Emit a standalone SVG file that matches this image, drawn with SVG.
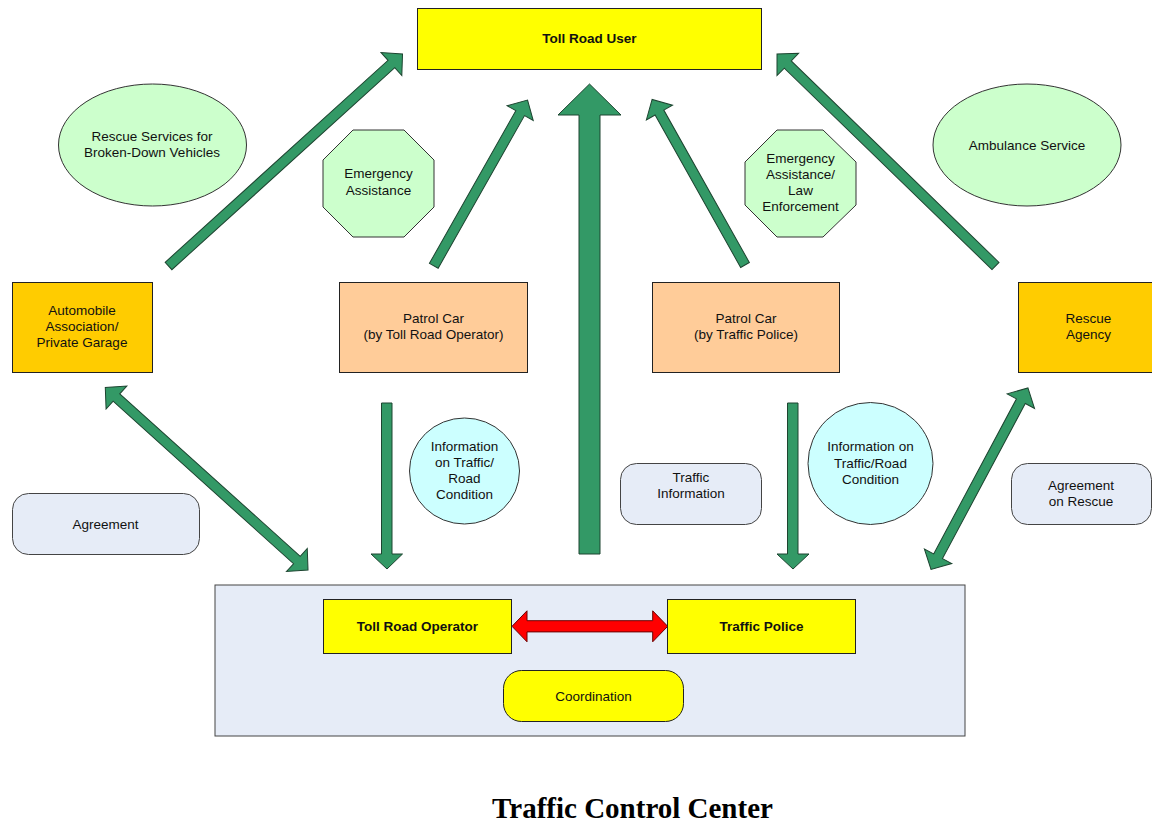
<svg xmlns="http://www.w3.org/2000/svg" width="1152" height="822" viewBox="0 0 1152 822">
  <style>
    text { font-family: "Liberation Sans", Arial, sans-serif; font-size: 13.5px; fill: #111; text-anchor: middle; }
    .b { font-weight: bold; }
    .title { font-family: "Liberation Serif", "Times New Roman", serif; font-size: 29px; font-weight: bold; fill: #000; }
    .box { stroke: #222; stroke-width: 1; }
    .yellow { fill: #FFFF00; }
    .gold { fill: #FFCC00; }
    .peach { fill: #FFCC99; }
    .mint { fill: #CCFFCC; stroke: #333; stroke-width: 1; }
    .aqua { fill: #CCFFFF; stroke: #333; stroke-width: 1; }
    .note { fill: #E6ECF7; stroke: #444; stroke-width: 1; }
    .green { fill: #339966; stroke: #1d4430; stroke-width: 1; }
    .red { fill: #FF0000; stroke: #6a0000; stroke-width: 1; }
  </style>

  <rect width="1152" height="822" fill="#FFFFFF"/>

  <!-- Traffic control center frame -->
  <g id="tcc">
    <rect x="215" y="585" width="750" height="151" class="note" stroke="#555"/>
  </g>

  <!-- connectors -->
  <g id="connectors">
    <!-- garage to user -->
    <polygon class="green" transform="translate(168.5,266) rotate(-42.18)" points="0,-5 300.8,-5 300.8,-15.5 315.8,0 300.8,15.5 300.8,5 0,5"/>
    <!-- operator patrol to user -->
    <polygon class="green" transform="translate(433.8,265.8) rotate(-60.5)" points="0,-5 175.4,-5 175.4,-15 190.4,0 175.4,15 175.4,5 0,5"/>
    <!-- control center to user (main) -->
    <polygon class="green" points="579,554 579,115 558,115 589.5,84 621,115 600,115 600,554"/>
    <!-- police patrol to user -->
    <polygon class="green" transform="translate(745,265) rotate(-119.3)" points="0,-5 174.8,-5 174.8,-15 189.8,0 174.8,15 174.8,5 0,5"/>
    <!-- rescue agency to user -->
    <polygon class="green" transform="translate(995.5,266) rotate(-135.87)" points="0,-5 289.4,-5 289.4,-15.5 304.4,0 289.4,15.5 289.4,5 0,5"/>
    <!-- garage <-> operator -->
    <polygon class="green" transform="translate(105.3,387.5) rotate(42)" points="15,-5 257.8,-5 257.8,-15.5 272.8,0 257.8,15.5 257.8,5 15,5 15,15.5 0,0 15,-15.5"/>
    <!-- operator patrol to operator -->
    <polygon class="green" points="381.5,403 392,403 392,554 402.5,554 387,569 371,554 381.5,554"/>
    <!-- police patrol to police -->
    <polygon class="green" points="787.5,403 798,403 798,554 809,554 793,569 777,554 787.5,554"/>
    <!-- police <-> rescue agency -->
    <polygon class="green" transform="translate(931,569.5) rotate(-61.9)" points="15,-5 190.8,-5 190.8,-15.5 205.8,0 190.8,15.5 190.8,5 15,5 15,15.5 0,0 15,-15.5"/>
    <!-- operator <-> police -->
    <polygon class="red" transform="translate(512,626.3)" points="15,-5.6 140.7,-5.6 140.7,-15.5 155.7,0 140.7,15.5 140.7,5.6 15,5.6 15,15.5 0,0 15,-15.5"/>
  </g>

  <g id="toll-road-user">
    <rect x="417.5" y="8.5" width="344" height="61" class="box yellow"/>
    <text x="589.5" y="43" class="b">Toll Road User</text>
  </g>

  <g id="rescue-services">
    <ellipse cx="152.5" cy="145" rx="94" ry="61" class="mint"/>
    <text x="152" y="141">Rescue Services for</text>
    <text x="152" y="157">Broken-Down Vehicles</text>
  </g>

  <g id="emergency-assistance">
    <polygon class="mint" points="353,130 404,130 434,160 434,207 404,237 353,237 323,207 323,160"/>
    <text x="378.5" y="178">Emergency</text>
    <text x="378.5" y="195">Assistance</text>
  </g>

  <g id="emergency-law">
    <polygon class="mint" points="777,130 823,130 856,162 856,205 823,237 777,237 745,205 745,162"/>
    <text x="800.5" y="163">Emergency</text>
    <text x="800.5" y="179">Assistance/</text>
    <text x="800.5" y="195">Law</text>
    <text x="800.5" y="211">Enforcement</text>
  </g>

  <g id="ambulance-service">
    <ellipse cx="1027" cy="145" rx="94" ry="61" class="mint"/>
    <text x="1027" y="149.5">Ambulance Service</text>
  </g>

  <g id="automobile-association">
    <rect x="12.5" y="282.5" width="140" height="90" class="box gold"/>
    <text x="82" y="315">Automobile</text>
    <text x="82" y="331">Association/</text>
    <text x="82" y="347">Private Garage</text>
  </g>

  <g id="patrol-car-operator">
    <rect x="339.5" y="282.5" width="188" height="90" class="box peach"/>
    <text x="433.5" y="323">Patrol Car</text>
    <text x="433.5" y="339">(by Toll Road Operator)</text>
  </g>

  <g id="patrol-car-police">
    <rect x="652.5" y="282.5" width="187" height="90" class="box peach"/>
    <text x="746" y="323">Patrol Car</text>
    <text x="746" y="339">(by Traffic Police)</text>
  </g>

  <g id="rescue-agency">
    <rect x="1018.5" y="282.5" width="142" height="90" class="box gold"/>
    <text x="1088.5" y="323">Rescue</text>
    <text x="1088.5" y="339">Agency</text>
  </g>

  <g id="agreement">
    <rect x="12.5" y="493.5" width="187" height="61" rx="16" class="note"/>
    <text x="105.5" y="528.5">Agreement</text>
  </g>

  <g id="info-operator">
    <ellipse cx="464.5" cy="471" rx="55" ry="53" class="aqua"/>
    <text x="464.5" y="451">Information</text>
    <text x="464.5" y="467">on Traffic/</text>
    <text x="464.5" y="483">Road</text>
    <text x="464.5" y="499">Condition</text>
  </g>

  <g id="traffic-information">
    <rect x="620.5" y="463.5" width="141" height="61" rx="16" class="note"/>
    <text x="691" y="481.5">Traffic</text>
    <text x="691" y="497.5">Information</text>
  </g>

  <g id="info-police">
    <ellipse cx="870.5" cy="463.5" rx="62.5" ry="61" class="aqua"/>
    <text x="870.5" y="451">Information on</text>
    <text x="870.5" y="467.5">Traffic/Road</text>
    <text x="870.5" y="483.5">Condition</text>
  </g>

  <g id="agreement-rescue">
    <rect x="1011.5" y="463.5" width="140" height="61" rx="16" class="note"/>
    <text x="1081" y="490">Agreement</text>
    <text x="1081" y="506">on Rescue</text>
  </g>

  <g id="toll-road-operator">
    <rect x="323.5" y="599.5" width="188" height="54" class="box yellow"/>
    <text x="417.5" y="630.5" class="b">Toll Road Operator</text>
  </g>

  <g id="traffic-police">
    <rect x="667.5" y="599.5" width="188" height="54" class="box yellow"/>
    <text x="761.5" y="630.5" class="b">Traffic Police</text>
  </g>

  <g id="coordination">
    <rect x="503.5" y="670.5" width="180" height="51" rx="18" class="box yellow"/>
    <text x="593.5" y="700.5">Coordination</text>
  </g>

  <g id="caption">
    <text x="632.5" y="818" class="title">Traffic Control Center</text>
  </g>
</svg>
